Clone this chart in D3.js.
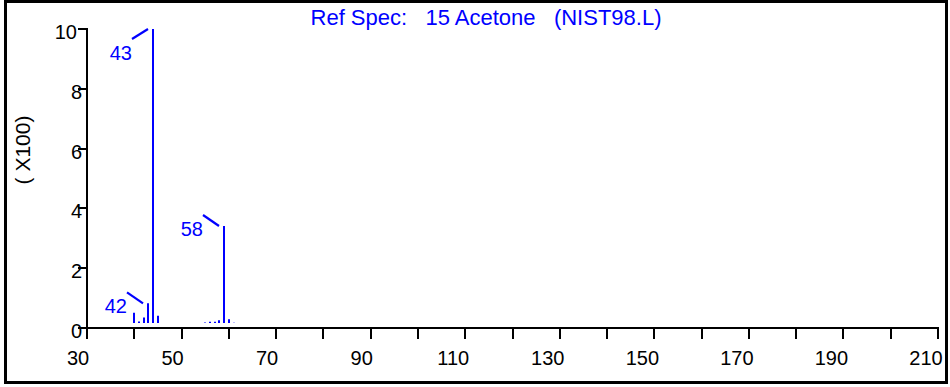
<!DOCTYPE html>
<html>
<head>
<meta charset="utf-8">
<script src="https://cdn.jsdelivr.net/npm/d3@7"></script>
<style>
  html, body { margin: 0; padding: 0; background: #fff; }
  svg { display: block; font-family: "Liberation Sans", Arial, sans-serif; }
</style>
</head>
<body>
<svg id="chart" width="950" height="387"></svg>
<script>
// Acetone reference mass spectrum (NIST98.L, entry 15)
const title = "Ref Spec:   15 Acetone   (NIST98.L)";
const yUnitLabel = "( X100)";

// m/z of each stick and its relative abundance (base peak = 1000)
const masses     = [39, 40, 41, 42, 43,   44, 54, 55, 56, 57, 58,  59, 60];
const abundances = [35,  5, 19, 67, 1000, 25,  2,  4,  4,  9, 330, 13,  1];

// peaks carrying an m/z annotation
const labelledMasses = [42, 43, 58];

// axis ticks
const xTicks = d3.range(30, 211, 10);
const xTickLabels = [30, 50, 70, 90, 110, 130, 150, 170, 190, 210];
const yTicks = [0, 2, 4, 6, 8, 10];

const BLUE = "#0000ff";
const svg = d3.select("#chart");
const snap = v => Math.round(v);

// outer frame
svg.append("rect")
  .attr("x", 5.5).attr("y", 1.5)
  .attr("width", 941).attr("height", 381)
  .attr("fill", "none").attr("stroke", "#000").attr("stroke-width", 3);

// scales
const x = d3.scaleLinear().domain([30, 210]).range([87, 938]);
const yAxisScale = d3.scaleLinear().domain([0, 10]).range([328, 29]);
const yStick = d3.scaleLinear().domain([0, 1000]).range([323, 29]);
// sticks are plotted one mass unit to the right of the tick grid
const stickShift = 1;

// title
svg.append("text")
  .attr("x", 486).attr("y", 25)
  .attr("text-anchor", "middle")
  .attr("fill", BLUE)
  .style("font-size", "22px")
  .style("white-space", "pre")
  .text(title);

// y unit label
svg.append("text")
  .attr("transform", "translate(30,150) rotate(-90)")
  .attr("text-anchor", "middle")
  .attr("fill", "#000")
  .style("font-size", "21px")
  .style("white-space", "pre")
  .text(yUnitLabel);

// x axis
const xAxisG = svg.append("g");
xAxisG.append("line")
  .attr("x1", snap(x(30))).attr("x2", snap(x(210)) + 1)
  .attr("y1", 328).attr("y2", 328)
  .attr("stroke", "#000").attr("stroke-width", 2);
xAxisG.selectAll("line.tick").data(xTicks).join("line")
  .attr("class", "tick")
  .attr("x1", d => snap(x(d))).attr("x2", d => snap(x(d)))
  .attr("y1", 327).attr("y2", 339)
  .attr("stroke", "#000").attr("stroke-width", 2);
xAxisG.selectAll("text").data(xTickLabels).join("text")
  .attr("x", d => x(d) - (String(d).length > 2 ? 12 : 9))
  .attr("y", 365)
  .attr("text-anchor", "middle")
  .attr("fill", "#000")
  .style("font-size", "20px")
  .text(d => d);

// y axis
const yAxisG = svg.append("g");
yAxisG.append("line")
  .attr("x1", 87).attr("x2", 87)
  .attr("y1", snap(yAxisScale(10)) - 1).attr("y2", snap(yAxisScale(0)) + 1)
  .attr("stroke", "#000").attr("stroke-width", 2);
yAxisG.selectAll("line.tick").data(yTicks).join("line")
  .attr("class", "tick")
  .attr("x1", 78).attr("x2", 87)
  .attr("y1", d => snap(yAxisScale(d))).attr("y2", d => snap(yAxisScale(d)))
  .attr("stroke", "#000").attr("stroke-width", 2);
yAxisG.selectAll("text").data(yTicks).join("text")
  .attr("x", d => String(d).length > 1 ? 77 : 82)
  .attr("y", d => yAxisScale(d) + 10)
  .attr("text-anchor", "end")
  .attr("fill", "#000")
  .style("font-size", "20px")
  .text(d => d);

// spectrum sticks
const spectrum = masses.map((m, i) => ({ m, a: abundances[i] }));
svg.append("g").selectAll("line").data(spectrum).join("line")
  .attr("x1", d => snap(x(d.m + stickShift))).attr("x2", d => snap(x(d.m + stickShift)))
  .attr("y1", yStick(0)).attr("y2", d => yStick(d.a))
  .attr("stroke", BLUE).attr("stroke-width", 2);

// m/z annotations with leader lines
const labelG = svg.append("g");
spectrum.filter(d => labelledMasses.includes(d.m)).forEach(d => {
  const bx = snap(x(d.m + stickShift));
  const top = yStick(d.a);
  // near the top edge the leader points upward and the label sits below
  const flip = top < 60;
  const ly = flip ? top + 10 : top - 11;
  labelG.append("line")
    .attr("x1", bx - 21).attr("y1", ly)
    .attr("x2", bx - 5).attr("y2", top)
    .attr("stroke", BLUE).attr("stroke-width", 2.2);
  labelG.append("text")
    .attr("x", bx - 21)
    .attr("y", flip ? top + 31 : top + 10)
    .attr("text-anchor", "end")
    .attr("fill", BLUE)
    .style("font-size", "20px")
    .text(d.m);
});
</script>
</body>
</html>
